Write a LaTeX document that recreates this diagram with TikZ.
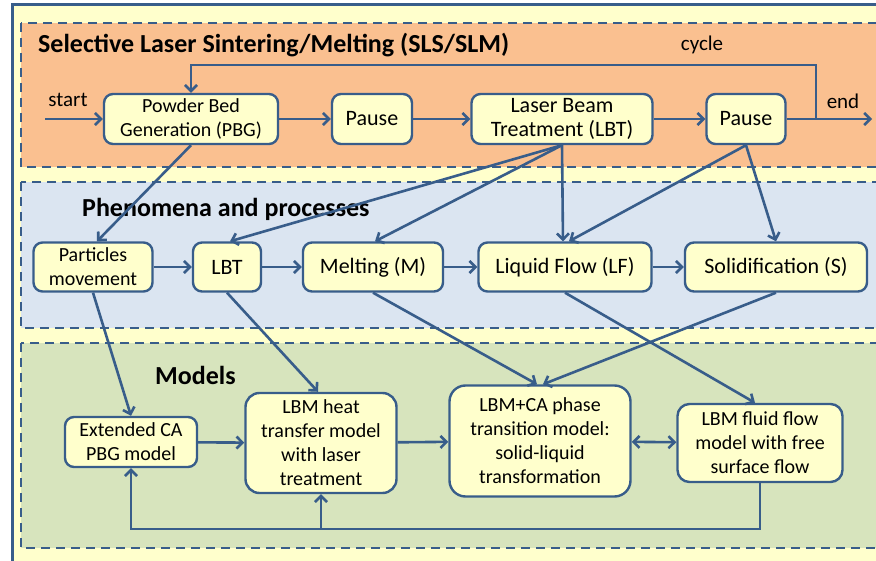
\documentclass[tikz,border=0pt]{standalone}
\usepackage{fontspec}
\setmainfont{Carlito}
\usepackage{tikz}
\usetikzlibrary{arrows.meta}
\usetikzlibrary{calc}
\usetikzlibrary{positioning}
\definecolor{myblue}{HTML}{385D8A}
\definecolor{paper}{HTML}{FFFFCC}
\definecolor{boxfill}{HTML}{FFFFCC}
\definecolor{slsorange}{HTML}{FAC090}
\definecolor{phenblue}{HTML}{DBE5F1}
\definecolor{modgreen}{HTML}{D7E4BD}
\tikzset{every text node part/.style={align=center}}
\tikzstyle{block} = [draw=myblue, fill=boxfill, line width=2.4pt, rounded corners=9pt, inner sep=1pt, font={\fontsize{20}{24}\selectfont}]
\tikzstyle{bigtext} = [font={\fontsize{22}{24}\selectfont}]
\tikzstyle{ln} = [draw=myblue, line width=2.6pt, -{Straight Barb[length=6pt, width=12pt]}]
\tikzstyle{region} = [draw=myblue, line width=2.5pt, dash pattern=on 9pt off 6pt]
\tikzstyle{heading} = [anchor=west, inner sep=0pt, font={\bfseries\fontsize{26}{28}\selectfont}]
\tikzstyle{tag} = [inner sep=0pt, font={\fontsize{21}{24}\selectfont}]

\begin{document}
\begin{tikzpicture}[x=1pt, y=-1pt]
  \clip (0,0) rectangle (876,561);
  \fill[paper] (12,5) rectangle (890,575);
  \draw[myblue, line width=3pt] (12,575) -- (12,5) -- (890,5);
  % the three layers
  \path[region, fill=slsorange] (21,23) rectangle (890,167);
  \path[region, fill=phenblue] (21,182) rectangle (890,328);
  \path[region, fill=modgreen] (21,343) rectangle (890,548);
  \node[heading] (sls-title) at (38,45) {Selective Laser Sintering/Melting (SLS/SLM)};
  \node[heading] (phen-title) at (82,209) {Phenomena and processes};
  \node[heading] (mod-title) at (155,375) {Models};

  % process
  \node[block, minimum width=174pt, minimum height=50pt] (pbg) at (191,119) {Powder Bed\\Generation (PBG)};
  \node[block, bigtext, minimum width=80pt, minimum height=50pt] (pause-1) at (372,119) {Pause};
  \node[block, bigtext, minimum width=181pt, minimum height=50pt] (lbt) at (562,119) {Laser Beam\\Treatment (LBT)};
  \node[block, bigtext, minimum width=79pt, minimum height=50pt] (pause-2) at (746,119) {Pause};
  \coordinate (start) at (45,119);
  \coordinate (end) at (872,119);
  \coordinate (cyc) at (816,119);
  \coordinate (cyc-top) at (816,65);
  \node[tag] (start-lbl) at (68,100) {start};
  \node[tag] (end-lbl) at (843,101) {end};
  \node[tag] (cyc-lbl) at (702,45) {cycle};
  \path[ln] (start) -- (pbg);
  \path[ln] (pbg) -- (pause-1);
  \path[ln] (pause-1) -- (lbt);
  \path[ln] (lbt) -- (pause-2);
  \path[ln] (pause-2) -- (end);
  \path[ln] (cyc) -- (cyc-top) -| (pbg.north);

  % phenomena
  \node[block, minimum width=119pt, minimum height=49pt] (pm) at (93,267) {Particles\\movement};
  \node[block, bigtext, minimum width=68pt, minimum height=49pt] (lbt-p) at (227,267) {LBT};
  \node[block, bigtext, minimum width=140pt, minimum height=49pt] (melt) at (373,267) {Melting (M)};
  \node[block, bigtext, minimum width=173pt, minimum height=49pt] (lf) at (565,267) {Liquid Flow (LF)};
  \node[block, bigtext, minimum width=182pt, minimum height=49pt] (sol) at (776,267) {Solidification (S)};
  \path[ln] (pm) -- (lbt-p);
  \path[ln] (lbt-p) -- (melt);
  \path[ln] (melt) -- (lf);
  \path[ln] (lf) -- (sol);
  \path[ln] (pbg.south) -- ([xshift=4pt]pm.north);
  \path[ln] (lbt.south) -- ([xshift=3pt]lbt-p.north);
  \path[ln] (lbt.south) -- ([xshift=2pt]melt.north);
  \path[ln] (lbt.south) -- ([xshift=-2pt]lf.north);
  \path[ln] (pause-2.south) -- ([xshift=4pt]lf.north);
  \path[ln] (pause-2.south) -- (sol.north);

  % models
  \node[block, minimum width=132pt, minimum height=50pt] (extca) at (131,442) {Extended CA\\PBG model};
  \node[block, rounded corners=14pt, minimum width=151pt, minimum height=100pt] (lbmheat) at (321,443) {LBM heat\\transfer model\\with laser\\treatment};
  \node[block, rounded corners=16pt, minimum width=181pt, minimum height=111pt] (lbmca) at (540,441) {LBM+CA phase\\transition model:\\solid-liquid\\transformation};
  \node[block, rounded corners=12pt, minimum width=165pt, minimum height=78pt] (lbmfluid) at (760,443) {LBM fluid flow\\model with free\\surface flow};
  \path[ln] (pm.south) -- (extca.north);
  \path[ln] (lbt-p.south) -- ([xshift=-3pt]lbmheat.north);
  \path[ln] (melt.south) -- ([xshift=-3pt]lbmca.north);
  \path[ln] (sol.south) -- ([xshift=3pt]lbmca.north);
  \path[ln] (lf.south) -- ([xshift=-5pt]lbmfluid.north);
  \path[ln] (extca) -- (lbmheat);
  \path[ln] (lbmheat) -- (lbmca);
  \path[ln, {Straight Barb[length=6pt, width=12pt]}-{Straight Barb[length=6pt, width=12pt]}] (lbmca) -- (lbmfluid);
  \coordinate (fb) at (131,529);
  \path[ln] (lbmfluid.south) |- (fb) -- (extca.south);
  \path[ln] (lbmheat.south |- fb) -- (lbmheat.south);
\end{tikzpicture}
\end{document}
